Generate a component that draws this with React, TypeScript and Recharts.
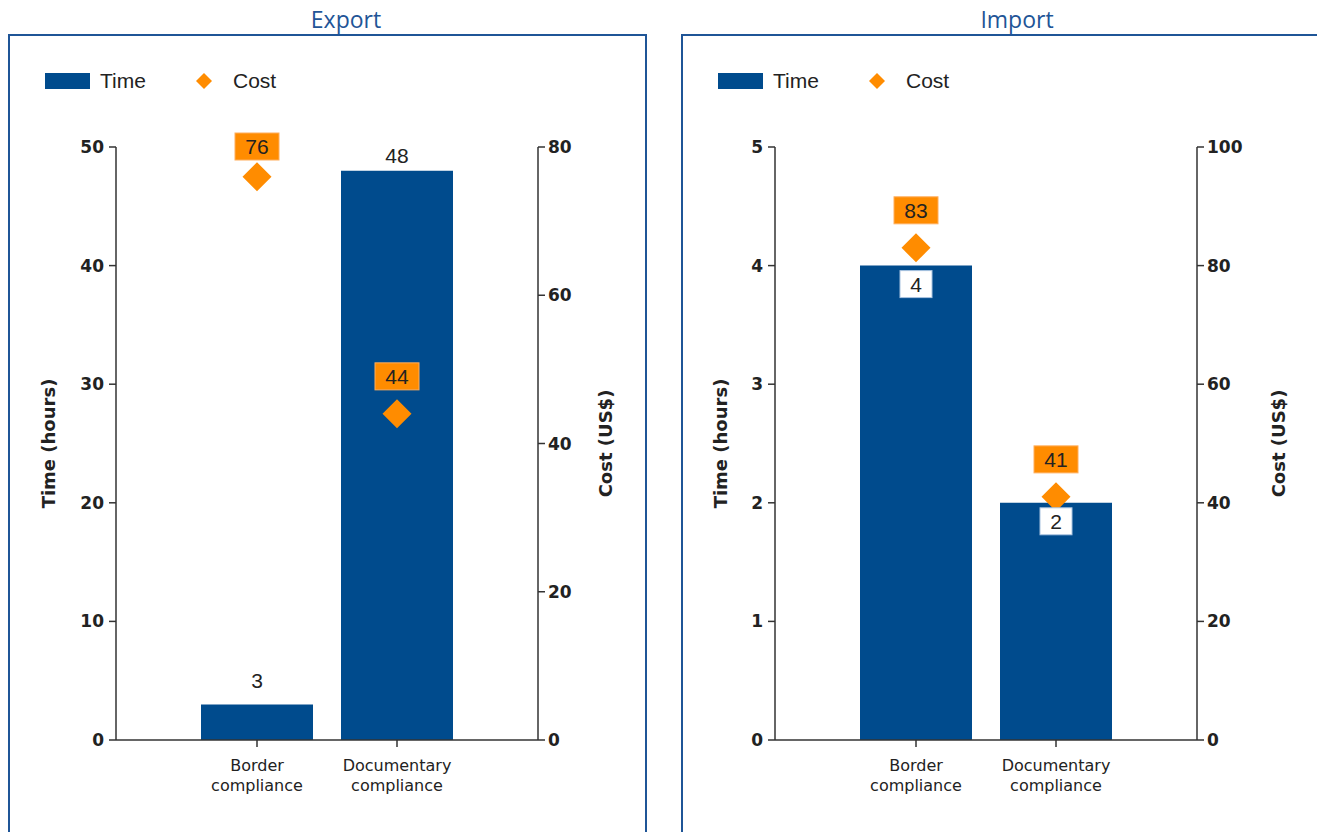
import { ComposedChart, Bar, Scatter, XAxis, YAxis, LabelList } from "recharts";

const categories = ["Border compliance", "Documentary compliance"];
const exportTime = [3, 48];
const exportCost = [76, 44];
const importTime = [4, 2];
const importCost = [83, 41];
const exportTimeTicks = [0, 10, 20, 30, 40, 50];
const exportCostTicks = [0, 20, 40, 60, 80];
const importTimeTicks = [0, 1, 2, 3, 4, 5];
const importCostTicks = [0, 20, 40, 60, 80, 100];

const BLUE = "#004b8d";
const ORANGE = "#ff8c00";
const FRAME = "#1f5597";
const AXIS = "#333";
const INK = "#222";
const BOLD_FONT = "'DejaVu Sans', Verdana, sans-serif";
const TEXT_FONT = "'Liberation Sans', Arial, sans-serif";
const PLOT_TOP = 111;

const AxisTitle = (props: any) => {
  const { viewBox, posX, text } = props;
  const y = viewBox.y + viewBox.height / 2;
  return (
    <text
      x={posX}
      y={y}
      transform={`rotate(-90 ${posX} ${y})`}
      textAnchor="middle"
      dominantBaseline="central"
      fontFamily={BOLD_FONT}
      fontWeight="bold"
      fontSize={18}
      fill={INK}
    >
      {text}
    </text>
  );
};

const CategoryTick = (props: any) => {
  const { x, y, payload } = props;
  const words = String(payload.value).split(" ");
  return (
    <text x={x} y={y} textAnchor="middle" fontFamily={BOLD_FONT} fontSize={16} fill={INK}>
      <tspan x={x} dy={22}>{words[0]}</tspan>
      <tspan x={x} dy={20}>{words.slice(1).join(" ")}</tspan>
    </text>
  );
};

const CostDiamond = (props: any) => {
  const { cx, cy, payload } = props;
  if (cx == null || cy == null) return null;
  const r = 14.5;
  const boxW = 44;
  const boxH = 27;
  const boxTop = Math.max(cy - 37.5 - boxH / 2, PLOT_TOP - 14);
  return (
    <g>
      <polygon
        points={`${cx},${cy - r} ${cx + r},${cy} ${cx},${cy + r} ${cx - r},${cy}`}
        fill={ORANGE}
      />
      <rect x={cx - boxW / 2} y={boxTop} width={boxW} height={boxH} fill={ORANGE} stroke="#ffae5c" strokeWidth={1} />
      <text
        x={cx}
        y={boxTop + boxH / 2}
        textAnchor="middle"
        dominantBaseline="central"
        fontFamily={TEXT_FONT}
        fontSize={21}
        fill={INK}
      >
        {payload.cost}
      </text>
    </g>
  );
};

const TimeAbove = (props: any) => {
  const { x, y, width, value } = props;
  const base = Math.max(y - 16, PLOT_TOP + 16);
  return (
    <text x={x + width / 2} y={base} textAnchor="middle" fontFamily={TEXT_FONT} fontSize={21} fill={INK}>
      {value}
    </text>
  );
};

const TimeInside = (props: any) => {
  const { x, y, width, value } = props;
  const cx = x + width / 2;
  const top = y + 5;
  return (
    <g>
      <rect x={cx - 16} y={top} width={32} height={27} fill="#fff" stroke="#a9c4e0" strokeWidth={1} />
      <text
        x={cx}
        y={top + 13.5}
        textAnchor="middle"
        dominantBaseline="central"
        fontFamily={TEXT_FONT}
        fontSize={21}
        fill={INK}
      >
        {value}
      </text>
    </g>
  );
};

interface PanelProps {
  title: string;
  left: number;
  titleX: number;
  time: number[];
  cost: number[];
  timeTicks: number[];
  costTicks: number[];
  margin: { top: number; right: number; bottom: number; left: number };
  leftWidth: number;
  rightWidth: number;
  timeTitleX: number;
  costTitleX: number;
  inside: boolean;
}

function Panel(p: PanelProps) {
  const data = categories.map((name, i) => ({ name, time: p.time[i], cost: p.cost[i] }));
  const tickStyle = { fontFamily: BOLD_FONT, fontWeight: "bold", fontSize: 17, fill: INK };
  return (
    <>
      <div
        style={{
          position: "absolute",
          left: p.titleX - 100,
          width: 200,
          top: 8,
          lineHeight: "23px",
          textAlign: "center",
          fontFamily: "'Open Sans', sans-serif",
          fontSize: 23,
          color: FRAME,
        }}
      >
        {p.title}
      </div>
      <div
        style={{
          position: "absolute",
          left: p.left,
          top: 34,
          width: 635,
          height: 820,
          border: `2px solid ${FRAME}`,
          background: "#fff",
        }}
      >
        <div style={{ position: "absolute", left: 35, top: 37, width: 45, height: 16, background: BLUE }} />
        <div
          style={{
            position: "absolute",
            left: 90,
            top: 33,
            fontFamily: TEXT_FONT,
            fontSize: 21,
            lineHeight: "24px",
            color: INK,
          }}
        >
          Time
        </div>
        <svg style={{ position: "absolute", left: 186, top: 37 }} width={16} height={16}>
          <polygon points="8,0 16,8 8,16 0,8" fill={ORANGE} />
        </svg>
        <div
          style={{
            position: "absolute",
            left: 223,
            top: 33,
            fontFamily: TEXT_FONT,
            fontSize: 21,
            lineHeight: "24px",
            color: INK,
          }}
        >
          Cost
        </div>
        <div style={{ position: "absolute", left: 0, top: 0 }}>
          <ComposedChart width={635} height={796} data={data} margin={p.margin}>
            <XAxis
              dataKey="name"
              xAxisId={0}
              padding={{ left: 71, right: 71 }}
              height={60}
              axisLine={{ stroke: AXIS, strokeWidth: 1.5 }}
              tickLine={{ stroke: AXIS, strokeWidth: 1.5 }}
              tickSize={7}
              tick={<CategoryTick />}
              interval={0}
            />
            <YAxis
              yAxisId="time"
              orientation="left"
              width={p.leftWidth}
              domain={[p.timeTicks[0], p.timeTicks[p.timeTicks.length - 1]]}
              ticks={p.timeTicks}
              tickSize={7}
              tickMargin={5}
              tick={tickStyle}
              axisLine={{ stroke: AXIS, strokeWidth: 1.5 }}
              tickLine={{ stroke: AXIS, strokeWidth: 1.5 }}
              label={<AxisTitle posX={p.timeTitleX} text="Time (hours)" />}
            />
            <YAxis
              yAxisId="cost"
              orientation="right"
              width={p.rightWidth}
              domain={[p.costTicks[0], p.costTicks[p.costTicks.length - 1]]}
              ticks={p.costTicks}
              tickSize={7}
              tickMargin={3}
              tick={tickStyle}
              axisLine={{ stroke: AXIS, strokeWidth: 1.5 }}
              tickLine={{ stroke: AXIS, strokeWidth: 1.5 }}
              label={<AxisTitle posX={p.costTitleX} text="Cost (US$)" />}
            />
            <Bar dataKey="time" yAxisId="time" fill={BLUE} barSize={112} isAnimationActive={false}>
              <LabelList dataKey="time" content={p.inside ? <TimeInside /> : <TimeAbove />} />
            </Bar>
            <Scatter dataKey="cost" yAxisId="cost" shape={<CostDiamond />} isAnimationActive={false} />
          </ComposedChart>
        </div>
      </div>
    </>
  );
}

export default function App() {
  return (
    <div
      style={{
        position: "absolute",
        left: 0,
        top: 0,
        width: 1317,
        height: 832,
        overflow: "hidden",
        background: "#fff",
      }}
    >
      <Panel
        title="Export"
        left={8}
        titleX={346}
        time={exportTime}
        cost={exportCost}
        timeTicks={exportTimeTicks}
        costTicks={exportCostTicks}
        margin={{ top: PLOT_TOP, right: 52, bottom: 32, left: 56 }}
        leftWidth={50}
        rightWidth={55}
        timeTitleX={38}
        costTitleX={595}
        inside={false}
      />
      <Panel
        title="Import"
        left={681}
        titleX={1017}
        time={importTime}
        cost={importCost}
        timeTicks={importTimeTicks}
        costTicks={importCostTicks}
        margin={{ top: PLOT_TOP, right: 61, bottom: 32, left: 42 }}
        leftWidth={50}
        rightWidth={60}
        timeTitleX={37}
        costTitleX={595}
        inside={true}
      />
    </div>
  );
}
